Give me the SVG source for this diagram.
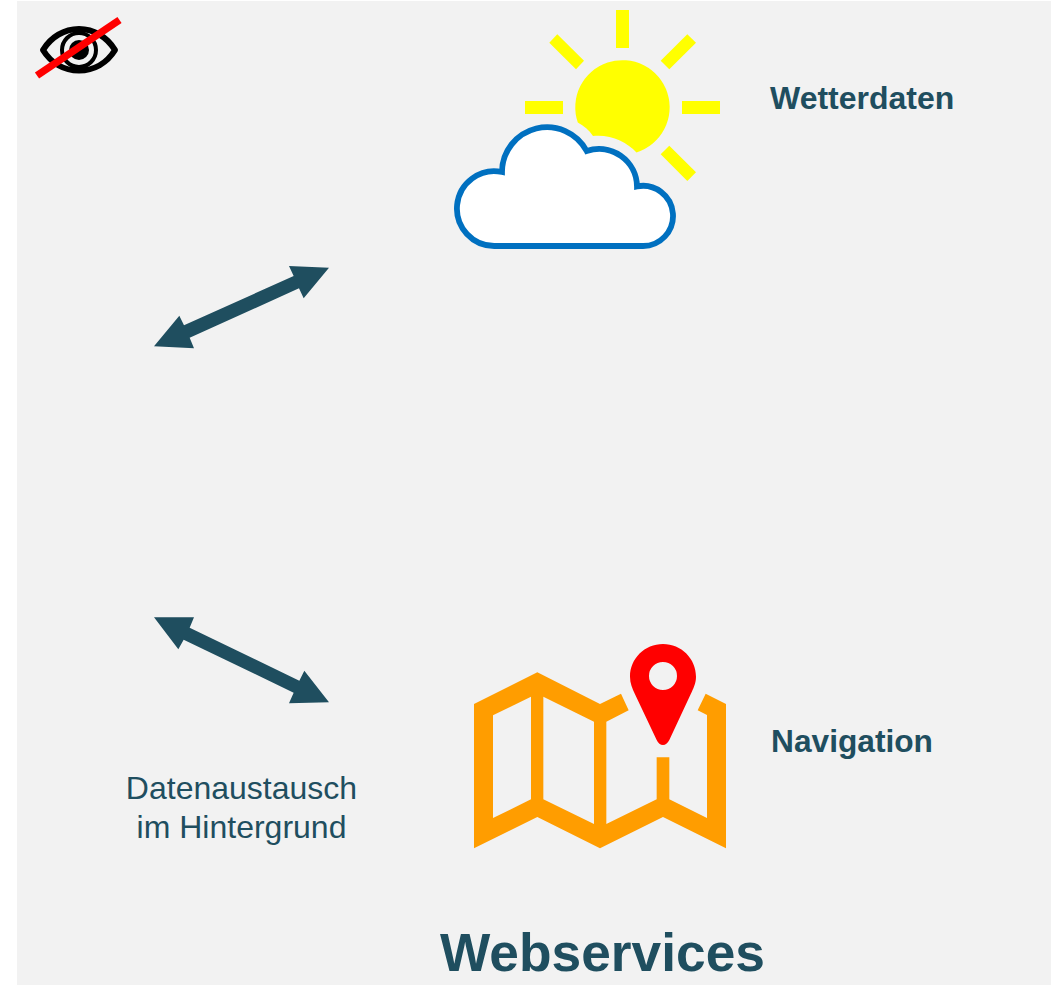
<svg xmlns="http://www.w3.org/2000/svg" width="1061" height="985" viewBox="0 0 1061 985">
<style>
text{font-family:"Liberation Sans",Arial,sans-serif;fill:#1f4e5f}
.b{font-weight:700}
.ray{fill:#ffff00}
.arrow{fill:#1f4e5f}
</style>
<rect width="1061" height="985" fill="#fff"/>
<rect id="background" x="17" y="1" width="1034" height="984" fill="#f2f2f2"/>
<g id="hidden-icon">
<path d="M43 50C51 37 64 29 79 29S107 37 115 50C107 63 94 70.500 79 70.500S51 63 43 50Z" fill="none" stroke="#000" stroke-width="6" stroke-linejoin="round"/>
<circle cx="79" cy="50" r="17" fill="none" stroke="#000" stroke-width="4"/>
<circle cx="79" cy="50" r="10" fill="#000"/>
<line x1="37" y1="75.500" x2="119.500" y2="20" stroke="#f00" stroke-width="7.500"/>
</g>
<g id="weather">
<g class="ray">
<rect x="616" y="10" width="13" height="38"/>
<rect x="525" y="101" width="38" height="13"/>
<rect x="682" y="101" width="38" height="13"/>
<polygon points="557.300,34.300 584,60.700 576,69.300 549.300,42.700"/>
<polygon points="687.300,34.300 696,42.700 669.300,69.300 660.700,60.700"/>
<polygon points="669.300,145.700 696,172.300 687.300,181 660.700,154.300"/>
</g>
<path d="M577.800 122.600A47.200 47.200 0 1 1 636.500 152.400C627 142 610 134 593 136C589 130 584 126 577.800 122.600Z" fill="#ffff00"/>
<path d="M495 246A37.400 37.400 0 1 1 502 172A45 45 0 0 1 586.700 151A38 38 0 0 1 637 186.400A30.100 30.100 0 1 1 642 246Z" fill="#fff" stroke="#0070c0" stroke-width="5.800" stroke-linejoin="miter"/>
</g>
<g id="navigation">
<g transform="translate(460 635) scale(.33333)">
<path fill-rule="evenodd" fill="#ff9d00" d="M42 207L232 112L420 207L483 176L506 226L439 260V567L590 493V367H628V493L741 549V240L713 226L737 176L798 207V640L609 546L420 640L232 546L42 640ZM99 241V549L213 493V185ZM250 185V493L402 567V260Z"/>
<path fill-rule="evenodd" fill="#f00" d="M609 27C664 27 708 71 708 125C708 145 700 160 692 178L628 315Q620 330 609 330Q597 330 590 315L525 178C517 160 510 145 510 125C510 71 554 27 609 27ZM609 81A42 42 0 1 0 609.010 165A42 42 0 1 0 609 81Z"/>
</g>
</g>
<g id="connectors">
<polygon class="arrow" transform="translate(140 255) scale(.33333)" points="42,274 118,182 132,211 461,63 447,33 567,38 491,130 477,100 149,248 162,280"/>
<polygon class="arrow" transform="translate(140 610) scale(.33333)" points="42,22 162,22 149,53 478,212 493,182 567,277 447,280 461,248 131,89 115,118"/>
</g>
<text class="b" x="770" y="108.500" font-size="32">Wetterdaten</text>
<text class="b" x="771" y="752" font-size="31.700">Navigation</text>
<text x="241.500" y="799" font-size="32" text-anchor="middle">Datenaustausch</text>
<text x="241.500" y="838" font-size="32" text-anchor="middle">im Hintergrund</text>
<text class="b" x="440" y="971" font-size="53.300">Webservices</text>
</svg>
